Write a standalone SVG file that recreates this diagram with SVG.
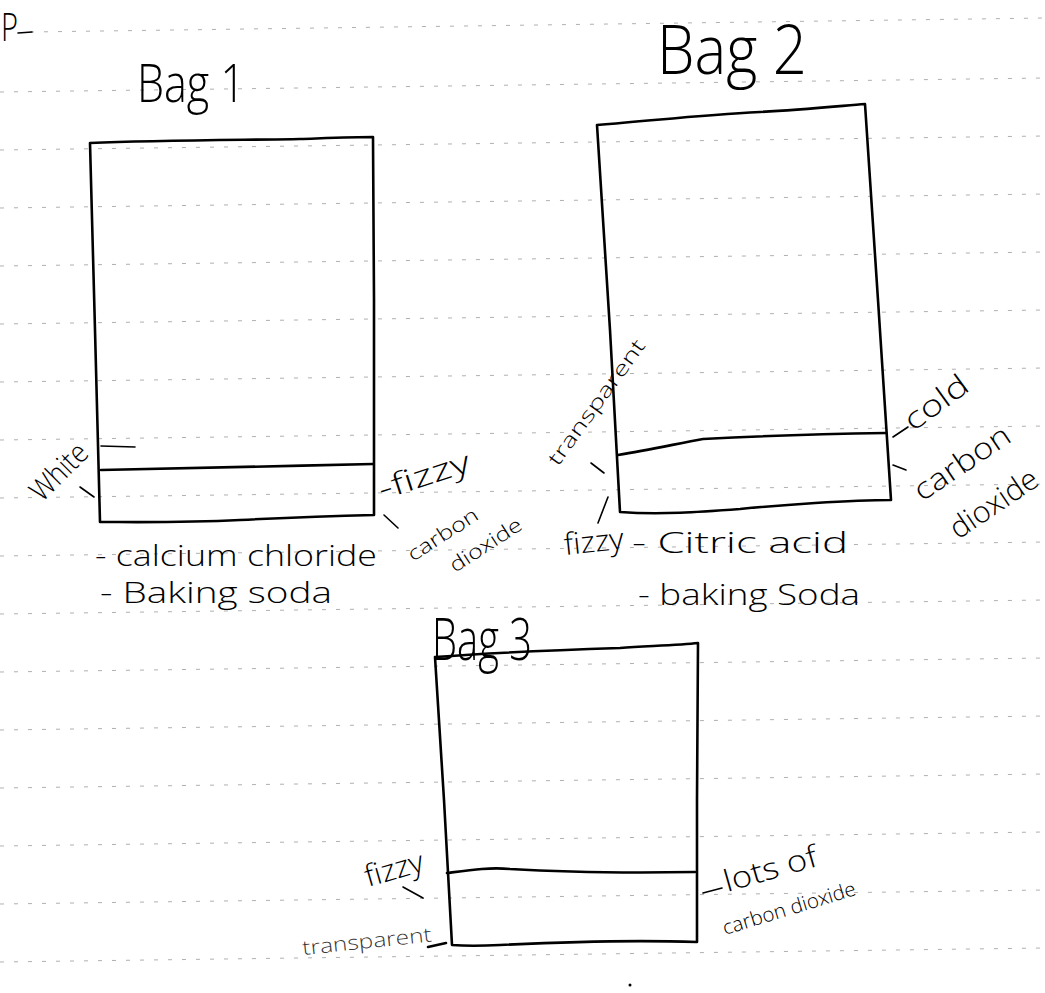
<svg xmlns="http://www.w3.org/2000/svg" width="1045" height="993" viewBox="0 0 1045 993">
<style>
.rule{stroke:#b0b0b0;stroke-width:1;stroke-dasharray:4 10;fill:none}
.bag{stroke:#000;stroke-width:2.6;fill:none;stroke-linecap:round;stroke-linejoin:round}
.mk{stroke:#000;stroke-width:1.6;fill:none;stroke-linecap:round}
.h{font-family:"Open Sans","Liberation Sans",sans-serif;font-weight:300;fill:#000}
.t{font-family:"Open Sans","Liberation Sans",sans-serif;font-weight:300;fill:#000;font-size:30px}
.s{font-family:"Open Sans","Liberation Sans",sans-serif;font-weight:300;fill:#000;font-size:20px}
</style>
<rect width="1045" height="993" fill="#fff"/>
<g id="ruled-lines">
<path class="rule" d="M30 32 L1045 18"/>
<path class="rule" d="M0 92 L1045 78"/>
<path class="rule" d="M0 150 L1045 136"/>
<path class="rule" d="M0 208 L1045 194"/>
<path class="rule" d="M0 266 L1045 252"/>
<path class="rule" d="M0 324 L1045 310"/>
<path class="rule" d="M0 382 L1045 368"/>
<path class="rule" d="M0 440 L1045 426"/>
<path class="rule" d="M0 498 L1045 484"/>
<path class="rule" d="M0 556 L1045 542"/>
<path class="rule" d="M0 614 L1045 600"/>
<path class="rule" d="M0 672 L1045 658"/>
<path class="rule" d="M0 730 L1045 716"/>
<path class="rule" d="M0 788 L1045 774"/>
<path class="rule" d="M0 846 L1045 832"/>
<path class="rule" d="M0 904 L1045 890"/>
<path class="rule" d="M0 962 L1045 948"/>
</g>
<g id="page-mark">
<text class="h" x="1" y="41" font-size="38" textLength="17" lengthAdjust="spacingAndGlyphs">P</text>
<path class="mk" d="M18 33 L32 32"/>
<circle cx="630" cy="985" r="1.5" fill="#000"/>
</g>
<g id="bag1">
<text class="h" x="137" y="102" font-size="54" textLength="108" lengthAdjust="spacingAndGlyphs">Bag  1</text>
<path class="bag" d="M90 143 C160 140 250 140 300 139 C330 138 355 137 373 137 L374 300 L374 515 C330 516 280 518 240 520 C180 523 130 522 100 522 L95 330 L90 143 Z"/>
<path class="bag" d="M101 470 C180 469 280 466 373 464"/>
<path class="mk" stroke="#444" stroke-width="1.2" d="M101 446 L135 447"/>
<text class="t" font-size="26" transform="translate(42,503) rotate(-45)" textLength="68" lengthAdjust="spacingAndGlyphs">White</text>
<path class="mk" d="M80 487 L94 497"/>
<text class="t" transform="translate(382,500) rotate(-18)" textLength="95" lengthAdjust="spacingAndGlyphs">-fizzy</text>
<path class="mk" d="M384 515 L398 528"/>
<text class="s" transform="translate(413,562) rotate(-33)" textLength="80" lengthAdjust="spacingAndGlyphs">carbon</text>
<text class="s" font-size="17" transform="translate(455,573) rotate(-33)" textLength="82" lengthAdjust="spacingAndGlyphs">dioxide</text>
<text class="t" font-size="27" x="95" y="566" textLength="282" lengthAdjust="spacingAndGlyphs">- calcium  chloride</text>
<text class="t" font-size="27" x="100" y="603" textLength="232" lengthAdjust="spacingAndGlyphs">- Baking  soda</text>
</g>
<g id="bag2">
<text class="h" x="657" y="74" font-size="68" textLength="150" lengthAdjust="spacingAndGlyphs">Bag 2</text>
<path class="bag" d="M597 125 C660 120 700 115 760 112 C800 110 840 106 865 104 L878 300 L891 500 C850 500 780 505 740 509 C700 512 660 515 620 512 L610 330 L597 125 Z"/>
<path class="bag" d="M618 455 C650 450 680 443 703 439 C760 436 820 434 886 433"/>
<text class="s" font-size="19" transform="translate(558,467) rotate(-54)" textLength="150" lengthAdjust="spacingAndGlyphs">transparent</text>
<path class="mk" d="M591 463 L604 473"/>
<path class="mk" d="M608 497 L598 523"/>
<text class="t" font-size="28" transform="translate(565,555) rotate(-6)" textLength="60" lengthAdjust="spacingAndGlyphs">fizzy</text>
<text class="t" font-size="30" x="632" y="553" textLength="216" lengthAdjust="spacingAndGlyphs">- Citric  acid</text>
<text class="t" font-size="30" x="638" y="605" textLength="222" lengthAdjust="spacingAndGlyphs">- baking  Soda</text>
<path class="mk" d="M893 437 L908 427"/>
<text class="t" transform="translate(913,432) rotate(-36)" textLength="72" lengthAdjust="spacingAndGlyphs">cold</text>
<path class="mk" d="M893 465 L906 470"/>
<text class="t" transform="translate(922,502) rotate(-34)" textLength="110" lengthAdjust="spacingAndGlyphs">carbon</text>
<text class="t" transform="translate(958,540) rotate(-34)" textLength="100" lengthAdjust="spacingAndGlyphs">dioxide</text>
</g>
<g id="bag3">
<text class="h" x="432" y="660" font-size="58" textLength="100" lengthAdjust="spacingAndGlyphs">Bag 3</text>
<path class="bag" d="M435 657 C500 652 560 650 620 648 C650 646 680 645 698 643 L697 800 L697 942 C640 940 560 942 500 945 C480 946 465 946 452 945 L444 800 L435 657 Z"/>
<path class="bag" d="M447 873 C470 870 490 867 510 869 C560 872 630 873 695 872"/>
<text class="t" font-size="26" transform="translate(368,887) rotate(-16)" textLength="60" lengthAdjust="spacingAndGlyphs">fizzy</text>
<path class="mk" d="M403 887 L423 898"/>
<text class="s" transform="translate(303,955) rotate(-6)" textLength="130" lengthAdjust="spacingAndGlyphs" fill-opacity="0.8">transparent</text>
<path class="bag" stroke-width="3.4" d="M428 947 L446 943"/>
<path class="mk" d="M703 893 L722 888"/>
<text class="t" transform="translate(727,892) rotate(-16)" textLength="96" lengthAdjust="spacingAndGlyphs">lots  of</text>
<text class="s" transform="translate(725,935) rotate(-17)" textLength="138" lengthAdjust="spacingAndGlyphs">carbon dioxide</text>
</g>
</svg>
